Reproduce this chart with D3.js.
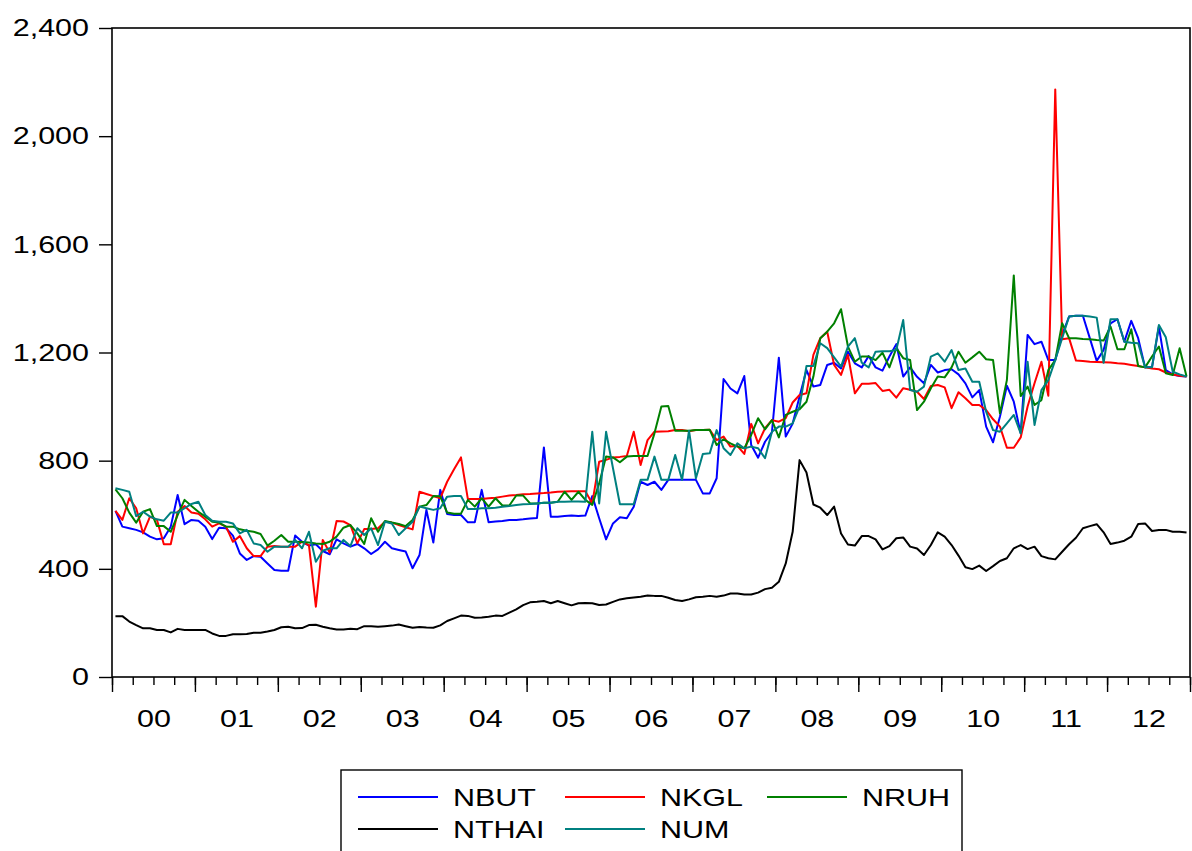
<!DOCTYPE html>
<html><head><meta charset="utf-8">
<script src="https://cdn.jsdelivr.net/npm/d3@7"></script>
<style>body{margin:0;background:#fff}svg{display:block}</style>
</head><body>
<svg id="c" width="1192" height="851"></svg>
<script>
const years = ["00","01","02","03","04","05","06","07","08","09","10","11","12"];
const yTicks = [0,400,800,1200,1600,2000,2400];
const seriesNames = ["NBUT","NKGL","NRUH","NTHAI","NUM"];
const seriesColors = ["#0000ff","#ff0000","#008000","#000000","#008080"];

const NBUT = [614,556,550,544,535,519,509,513,556,673,565,581,
578,556,510,552,550,523,457,433,447,445,420,396,
393,393,523,500,486,491,466,454,509,494,482,492,
476,455,472,500,476,470,464,402,451,618,497,692,
603,599,599,572,572,692,572,575,577,581,581,583,
586,588,849,593,593,595,597,595,597,669,587,509,
568,591,587,630,722,710,722,692,729,729,729,729,
729,679,679,735,1102,1067,1049,1113,858,811,870,905,
1181,889,937,1037,1135,1074,1080,1154,1162,1141,1203,1160,
1145,1187,1145,1133,1185,1231,1111,1145,1110,1086,1154,1126,
1135,1138,1119,1086,1034,1061,926,868,963,1077,1018,901,
1265,1231,1240,1172,1172,1265,1333,1336,1336,1253,1169,1209,
1308,1323,1240,1317,1253,1145,1145,1296,1135,1119,1113,1111];

const NKGL = [614,581,661,624,531,593,581,491,491,611,632,608,
604,583,556,568,556,500,521,476,447,447,482,484,
482,482,482,500,488,260,507,460,577,575,562,494,
547,547,550,574,571,562,554,546,685,677,669,661,
722,768,812,658,658,658,661,663,667,671,673,676,
677,679,680,682,685,686,687,687,687,642,796,803,
812,814,817,907,784,876,907,908,909,913,913,909,
913,913,914,876,889,852,855,825,936,864,920,950,
944,957,1015,1043,1049,1191,1253,1277,1154,1117,1191,1049,
1084,1084,1087,1058,1062,1033,1068,1062,1055,1028,1076,1080,
1071,994,1053,1031,1006,1006,987,953,926,848,848,886,
1000,1086,1166,1040,2173,1249,1253,1170,1169,1166,1165,1164,
1163,1160,1158,1154,1150,1145,1141,1138,1126,1119,1114,1111];

const NRUH = [694,661,608,571,611,621,558,558,537,599,655,632,
611,593,574,571,556,556,546,541,537,529,486,504,
525,500,500,499,497,494,492,500,519,552,562,531,
492,587,537,577,571,566,558,581,630,636,669,668,
608,604,604,655,630,661,630,661,634,634,671,671,
642,642,644,644,648,685,655,685,655,636,716,815,
812,794,815,817,817,817,901,1000,1002,911,911,911,
913,913,914,858,879,864,852,846,895,957,916,950,
886,969,981,990,1018,1111,1253,1277,1308,1360,1222,1166,
1185,1185,1172,1199,1145,1216,1179,1172,987,1018,1068,1111,
1108,1145,1203,1162,1182,1203,1175,1172,975,1098,1485,1039,
1074,1006,1024,1135,1172,1308,1253,1253,1250,1249,1246,1244,
1296,1212,1212,1286,1150,1145,1185,1222,1123,1117,1216,1111];

const NTHAI = [225,225,205,192,180,180,174,174,165,178,174,174,
174,174,161,152,152,158,158,159,164,164,168,174,
184,186,180,181,192,193,186,180,176,176,178,177,
188,188,186,188,190,194,188,182,185,183,182,191,
207,217,227,226,219,220,223,227,226,238,250,266,
276,278,281,273,281,273,265,273,274,273,266,268,
278,287,291,294,297,301,300,300,293,285,281,287,
295,297,300,297,301,309,309,305,305,312,325,330,
352,420,537,802,756,638,626,599,630,531,490,486,
521,521,509,472,484,513,516,482,475,451,488,535,
519,488,449,406,399,412,392,410,429,439,476,488,
473,482,447,439,435,463,491,515,550,558,565,535,
492,497,504,519,566,568,540,544,544,537,537,534];

const NUM = [698,692,685,595,611,593,583,578,608,608,624,640,
648,599,578,574,574,568,531,544,494,488,463,482,
482,482,507,476,537,426,467,476,476,507,484,550,
525,550,488,574,568,525,550,574,630,624,618,624,
667,669,669,621,621,624,624,626,630,632,636,639,
640,642,644,644,648,648,649,649,648,907,642,907,
772,639,639,639,729,729,815,729,729,821,729,911,
735,825,827,913,846,821,864,846,852,846,809,907,
926,926,938,1000,1150,1150,1234,1216,1182,1148,1222,1253,
1162,1145,1203,1205,1205,1209,1320,1061,1055,1074,1185,1197,
1166,1209,1135,1141,1092,1092,981,913,907,938,969,901,
1166,932,1061,1098,1172,1253,1333,1336,1336,1333,1329,1162,
1323,1323,1240,1236,1234,1145,1145,1302,1256,1129,1119,1111];

const seriesData = [NBUT, NKGL, NRUH, NTHAI, NUM];

const svg = d3.select("#c");
const L = 112, R = 1190, T = 28, B = 677;
const nMonths = years.length * 12;
const x = d3.scaleLinear().domain([0, nMonths]).range([L, R]);
const y = d3.scaleLinear().domain([0, 2400]).range([B, T]);
const SX = 1.27;
const FONT = "'Liberation Sans', Arial, Helvetica, sans-serif";

svg.append("rect").attr("width",1192).attr("height",851).attr("fill","#fff");

// series lines
const line = d3.line().x((d,i) => x(i + 0.5)).y(d => y(d));
seriesData.forEach((arr, k) => {
  svg.append("path").datum(arr)
    .attr("d", line)
    .attr("fill","none")
    .attr("stroke", seriesColors[k])
    .attr("stroke-width", 2)
    .attr("stroke-linejoin","round");
});

// frame
svg.append("rect").attr("x",L).attr("y",T).attr("width",R-L).attr("height",B-T)
  .attr("fill","none").attr("stroke","#000").attr("stroke-width",1.6);

// y axis
const gy = svg.append("g").attr("transform",`translate(${L},0)`)
  .call(d3.axisLeft(y).tickValues(yTicks).tickSize(13).tickPadding(10).tickFormat(d3.format(",")));
gy.select(".domain").remove();
gy.selectAll("line").attr("stroke","#000").attr("stroke-width",1.4);
gy.selectAll("text").attr("font-family",FONT).attr("font-size",24).attr("fill","#000")
  .attr("transform",`scale(${SX},1)`).attr("x",-23/SX);

// x axis minor / major ticks and labels
const gxMinor = svg.append("g").attr("transform",`translate(0,${B})`)
  .call(d3.axisBottom(x).tickValues(d3.range(0, nMonths+1, 3)).tickSize(8).tickFormat(""));
const gxMajor = svg.append("g").attr("transform",`translate(0,${B})`)
  .call(d3.axisBottom(x).tickValues(d3.range(0, nMonths+1, 12)).tickSize(15).tickFormat(""));
[gxMinor,gxMajor].forEach(g => {
  g.select(".domain").remove();
  g.selectAll("line").attr("stroke","#000").attr("stroke-width",1.4);
});
const gxLab = svg.append("g").attr("transform",`translate(0,${B})`)
  .call(d3.axisBottom(x).tickValues(d3.range(6, nMonths, 12)).tickSize(0).tickPadding(33)
    .tickFormat((d,i) => years[i]));
gxLab.select(".domain").remove();
gxLab.selectAll("text").attr("font-family",FONT).attr("font-size",24).attr("fill","#000")
  .attr("transform",`scale(${SX},1)`)
  .attr("x", function(){ return 0; });

// legend
const lg = svg.append("g");
lg.append("rect").attr("x",341).attr("y",770).attr("width",621).attr("height",120)
  .attr("fill","#fff").attr("stroke","#000").attr("stroke-width",1.4);
const colX = [358, 565, 767];
const rowY = [797, 829];
seriesNames.forEach((name, k) => {
  const cx = colX[k % 3], cy = rowY[Math.floor(k / 3)];
  lg.append("line").attr("x1",cx).attr("x2",cx+80).attr("y1",cy).attr("y2",cy)
    .attr("stroke",seriesColors[k]).attr("stroke-width",2);
  lg.append("text").attr("x",(cx+95)/SX).attr("y",cy).attr("dy","0.36em")
    .attr("transform",`scale(${SX},1)`)
    .attr("font-family",FONT).attr("font-size",24).attr("fill","#000").text(name);
});
</script>
</body></html>
